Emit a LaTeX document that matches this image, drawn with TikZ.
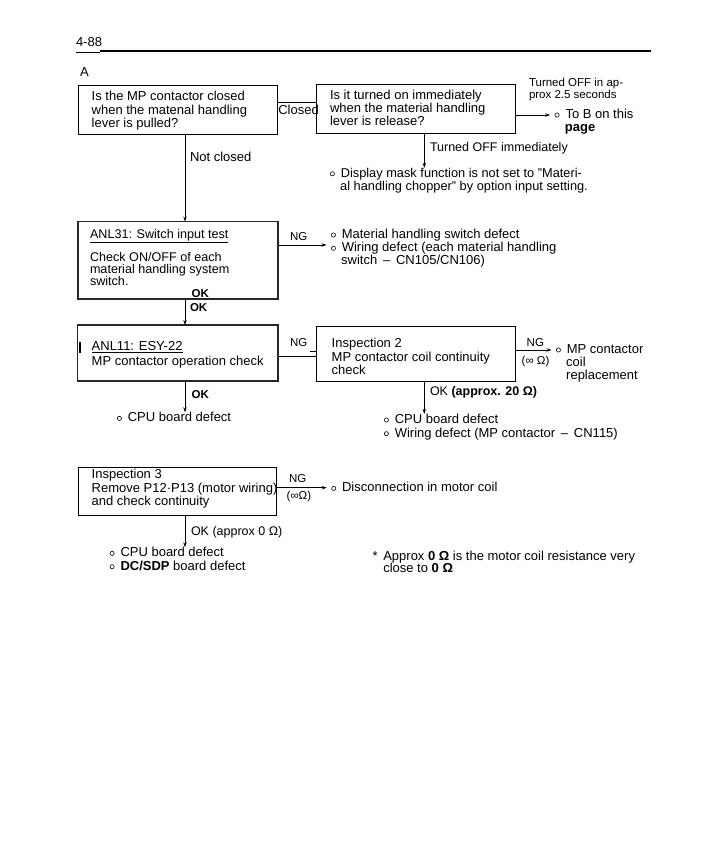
\documentclass[tikz,border=0pt]{standalone}
\usepackage{fontspec}
\setmainfont{Liberation Sans}
\usetikzlibrary{arrows.meta,calc}
\newcommand\fs{\fontsize{13}{13.3}\selectfont}
\newcommand\itm{\tikz[baseline=-3.3pt]\draw[line width=0.6pt] (0,0) circle[radius=2.1pt];\hspace{6pt}}
\newcommand\ind{\hspace*{10.2pt}}
\begin{document}
\begin{tikzpicture}[x=1pt,y=-1pt,font=\fs,
  every node/.style={inner sep=0pt,outer sep=0pt},
  txt/.style={anchor=base west,align=left},
  small/.style={font=\fontsize{11.5}{12}\selectfont},
  smallb/.style={font=\fontsize{11.5}{12}\selectfont\bfseries},
  box/.style={draw,line width=0.9pt},
  tbox/.style={draw=black!85,line width=1.8pt},
  con/.style={line width=0.8pt},
  arr/.style={line width=0.8pt,-{Stealth[length=5pt,width=3.4pt]}},
  larr/.style={arr,shorten >=4.5pt}]
\useasboundingbox (0,0) rectangle (705,861);

% header
\node[txt] (hdr) at (76,46.7) {4-88};
\draw[line width=0.8pt] (76,52) -- (100,52);
\draw[line width=2.2pt] (100,51.3) -- (651,51.3);
\node[txt] (secA) at (80,77) {A};

% helper coordinates
\coordinate (xL) at (185,0);
\coordinate (xR) at (424.3,0);
\coordinate (yCl) at (0,102.3);
\coordinate (yToB) at (0,115);
\coordinate (yNG1) at (0,245);
\coordinate (yNG2) at (0,356.7);
\coordinate (yNG3) at (0,350);
\coordinate (yNG4) at (0,487.7);

% boxes (multi-line text nodes are placed by the baseline of their last line)
\node[box,minimum width=199.4pt,minimum height=48.6pt] (b1) at (178,110) {};
\node[txt] (b1t) at (91.7,127.6) {Is the MP contactor closed\\when the matenal handling\\lever is pulled?};

\node[box,minimum width=198.3pt,minimum height=49pt] (b2) at (415.85,108.8) {};
\node[txt,font=\fontsize{13}{12.8}\selectfont] (b2t) at (330,125.6) {Is it turned on immediately\\when the material handling\\lever is release?};

\node[tbox,minimum width=200pt,minimum height=77.5pt] (anl31) at (178,260.25) {};
\node[txt,font=\fontsize{12.6}{12}\selectfont] (anl31t) at (90,285) {\underline{ANL31: Switch input test}\\[8pt]Check ON/OFF of each\\material handling system\\switch.};

\node[tbox,minimum width=200.5pt,minimum height=56pt] (anl11) at (177.75,353) {};
\node[txt] (anl11t) at (91.7,365.5) {\underline{ANL11: ESY-22}\\[1.7pt]MP contactor operation check};
\draw[line width=1.6pt] (80,341.7) -- (80,353.3);

\node[box,minimum width=198.3pt,minimum height=55pt] (insp2) at (415.85,353.5) {};
\node[txt] (insp2t) at (331.7,374.5) {Inspection 2\\MP contactor coil continuity\\check};

\node[box,minimum width=197.7pt,minimum height=48pt] (insp3) at (177.2,491) {};
\node[txt] (insp3t) at (91.7,505.5) {Inspection 3\\Remove P12·P13 (motor wiring)\\and check continuity};

% result texts
\node[txt,small] (offap) at (529,98.7) {Turned OFF in ap-\\prox 2.5 seconds};
\node[txt] (toB) at (554.7,131.6) {\itm To B on this\\\ind\textbf{page}};
\node[txt,font=\fontsize{12.8}{11}\selectfont] (mask) at (330,190) {\itm Display mask function is not set to "Materi-\\\ind al handling chopper" by option input setting.};
\node[txt] (ng1) at (331,264.9) {\itm Material handling switch defect\\\itm Wiring defect (each material handling\\\ind switch \,–\, CN105/CN106)};
\node[txt] (cpu1) at (117,421.7) {\itm CPU board defect};
\node[txt] (mpc) at (556,379.9) {\itm MP contactor\\\ind coil\\\ind replacement};
\node[txt,font=\fontsize{13}{13.7}\selectfont] (cpu2) at (384,437) {\itm CPU board defect\\\itm Wiring defect (MP contactor \,–\, CN115)};
\node[txt] (disc) at (331.3,491.7) {\itm Disconnection in motor coil};
\node[txt] (cpu3) at (109.7,570) {\itm CPU board defect\\\itm \textbf{DC/SDP} board defect};
\node[txt] (star) at (372.7,560) {*};
\node[txt,font=\fontsize{13}{12.7}\selectfont] (note) at (383.3,572.7) {Approx \textbf{0 Ω} is the motor coil resistance very\\close to \textbf{0 Ω}};

% labels
\node[txt] (closed) at (278.3,115) {Closed};
\node[txt,font=\fontsize{12.5}{13}\selectfont] (offim) at (430,151.7) {Turned OFF immediately};
\node[txt] (notcl) at (190,161.5) {Not closed};
\node[txt,small] (ngA) at (290,240.7) {NG};
\node[txt,smallb] (okover) at (191.7,297.3) {OK};
\node[txt,smallb] (okA) at (190,311.7) {OK};
\node[txt,small] (ngB) at (290,346.7) {NG};
\draw[line width=1.3pt] (310,351.7) -- (316.5,351.7);
\node[txt,smallb] (okB) at (191.7,398.3) {OK};
\node[txt,small] (ngC) at (526.7,346.7) {NG};
\node[txt,small] (infC) at (521.7,364.3) {(∞ Ω)};
\node[txt,font=\fontsize{12.5}{13}\selectfont] (okC) at (430,395) {OK \textbf{(approx. 20 Ω)}};
\node[txt,small] (ngD) at (289,482.3) {NG};
\node[txt,small] (infD) at (286.7,499.3) {(∞Ω)};
\node[txt,font=\fontsize{12.5}{13}\selectfont] (okD) at (191,535) {OK (approx 0 Ω)};

% connectors
\draw[con] (b1.east |- yCl) -- (b2.west |- yCl);
\draw[larr] (b2.east |- yToB) -- (toB.west |- yToB);
\draw[arr] (b2.south -| xR) -- (mask.north -| xR);
\draw[arr] (b1.south -| xL) -- (anl31.north -| xL);
\draw[larr] (anl31.east |- yNG1) -- (ng1.west |- yNG1);
\draw[arr] (anl31.south -| xL) -- (anl11.north -| xL);
\draw[con] (anl11.east |- yNG2) -- (insp2.west |- yNG2);
\draw[arr] (anl11.south -| xL) -- (cpu1.north -| xL);
\draw[larr] (insp2.east |- yNG3) -- (mpc.west |- yNG3);
\draw[arr] (insp2.south -| xR) -- (cpu2.north -| xR);
\draw[larr] (insp3.east |- yNG4) -- (disc.west |- yNG4);
\draw[arr] (insp3.south -| xL) -- (cpu3.north -| xL);
\end{tikzpicture}
\end{document}
